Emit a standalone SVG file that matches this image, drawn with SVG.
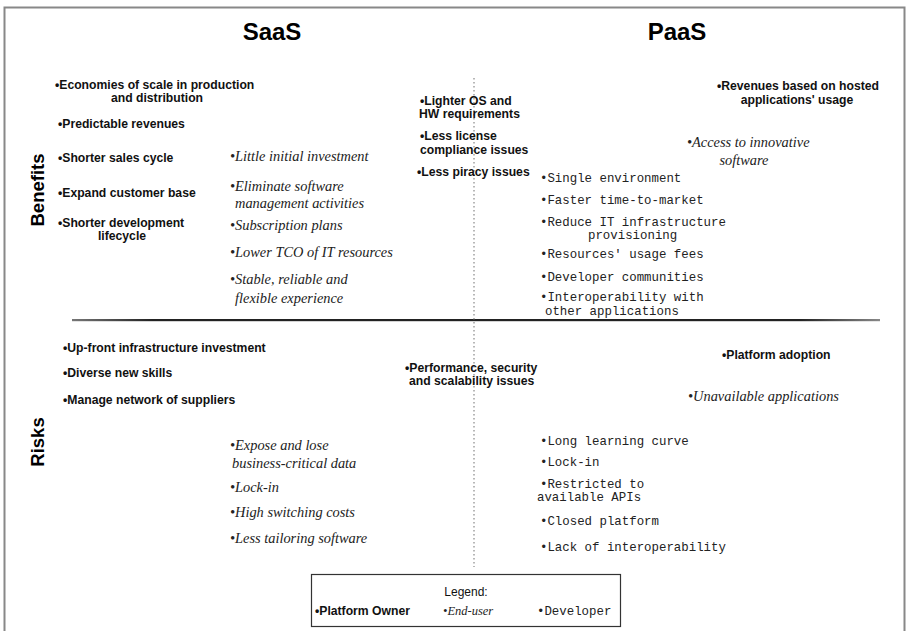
<svg xmlns="http://www.w3.org/2000/svg" width="906" height="631" viewBox="0 0 906 631">
<style>
.t{font-family:"Liberation Sans",Arial,sans-serif;font-weight:bold;font-size:24px;fill:#000}
.ax{font-family:"Liberation Sans",Arial,sans-serif;font-weight:bold;font-size:18.5px;fill:#000}
.b{font-family:"Liberation Sans",Arial,sans-serif;font-weight:bold;font-size:12.2px;fill:#111}
.i{font-family:"Liberation Serif","Times New Roman",serif;font-style:italic;font-size:14.4px;fill:#222}
.m{font-family:"Liberation Mono","Courier New",monospace;font-size:12.4px;fill:#222}
.r{font-family:"Liberation Sans",Arial,sans-serif;font-size:12px;fill:#111}
.c{text-anchor:middle}
</style>
<defs>
<linearGradient id="lg" x1="0" x2="1" y1="0" y2="0">
<stop offset="0" stop-color="#777"/>
<stop offset="0.1" stop-color="#222"/>
<stop offset="0.9" stop-color="#222"/>
<stop offset="1" stop-color="#888"/>
</linearGradient>
</defs>
<rect width="906" height="631" fill="#fff"/>
<g id="frame">
<path d="M4.5 640 V7.5 H904.5 V640" fill="none" stroke="#888" stroke-width="2"/>
</g>
<g id="connectors">
<rect x="72" y="319" width="808" height="2.2" fill="url(#lg)"/>
<line x1="474" y1="78" x2="474" y2="567" stroke="#888" stroke-width="1.2" stroke-dasharray="1.5 2.5"/>
</g>
<g id="headers">
<text class="t c" x="272" y="40">SaaS</text>
<text class="t c" x="677" y="40">PaaS</text>
<text class="ax c" transform="translate(44 190) rotate(-90)">Benefits</text>
<text class="ax c" transform="translate(44 442) rotate(-90)">Risks</text>
</g>
<g id="saas-benefits-owner">
<text class="b" x="55" y="89">•Economies of scale in production</text>
<text class="b c" x="157" y="102">and distribution</text>
<text class="b" x="58" y="128">•Predictable revenues</text>
<text class="b" x="58" y="162">•Shorter sales cycle</text>
<text class="b" x="58" y="197">•Expand customer base</text>
<text class="b" x="58" y="227">•Shorter development</text>
<text class="b c" x="122" y="240">lifecycle</text>
</g>
<g id="saas-benefits-user">
<text class="i" x="230" y="161">•Little initial investment</text>
<text class="i" x="230" y="191">•Eliminate software</text>
<text class="i" x="235" y="208">management activities</text>
<text class="i" x="230" y="230">•Subscription plans</text>
<text class="i" x="230" y="257">•Lower TCO of IT resources</text>
<text class="i" x="230" y="284">•Stable, reliable and</text>
<text class="i" x="235" y="303">flexible experience</text>
</g>
<g id="shared-benefits-owner">
<text class="b" x="420" y="105">•Lighter OS and</text>
<text class="b" x="419" y="118">HW requirements</text>
<text class="b" x="420" y="140">•Less license</text>
<text class="b" x="420" y="154">compliance issues</text>
<text class="b" x="417" y="176">•Less piracy issues</text>
</g>
<g id="paas-benefits-owner">
<text class="b" x="717" y="90">•Revenues based on hosted</text>
<text class="b c" x="797" y="104">applications' usage</text>
</g>
<g id="paas-benefits-user">
<text class="i" x="687" y="147">•Access to innovative</text>
<text class="i c" x="744" y="165">software</text>
</g>
<g id="paas-benefits-developer">
<text class="m" x="540" y="182">•Single environment</text>
<text class="m" x="540" y="204">•Faster time-to-market</text>
<text class="m" x="540" y="226">•Reduce IT infrastructure</text>
<text class="m" x="588" y="239">provisioning</text>
<text class="m" x="540" y="258">•Resources' usage fees</text>
<text class="m" x="540" y="281">•Developer communities</text>
<text class="m" x="540" y="301">•Interoperability with</text>
<text class="m" x="545" y="315">other applications</text>
</g>
<g id="saas-risks-owner">
<text class="b" x="63" y="352">•Up-front infrastructure investment</text>
<text class="b" x="63" y="377">•Diverse new skills</text>
<text class="b" x="63" y="404">•Manage network of suppliers</text>
</g>
<g id="saas-risks-user">
<text class="i" x="230" y="450">•Expose and lose</text>
<text class="i" x="232" y="468">business-critical data</text>
<text class="i" x="230" y="492">•Lock-in</text>
<text class="i" x="230" y="517">•High switching costs</text>
<text class="i" x="230" y="543">•Less tailoring software</text>
</g>
<g id="shared-risks-owner">
<text class="b" x="405" y="372">•Performance, security</text>
<text class="b" x="409" y="385">and scalability issues</text>
</g>
<g id="paas-risks-owner">
<text class="b" x="722" y="359">•Platform adoption</text>
</g>
<g id="paas-risks-user">
<text class="i" x="688" y="401">•Unavailable applications</text>
</g>
<g id="paas-risks-developer">
<text class="m" x="540" y="445">•Long learning curve</text>
<text class="m" x="540" y="466">•Lock-in</text>
<text class="m" x="540" y="488">•Restricted to</text>
<text class="m" x="537" y="501">available APIs</text>
<text class="m" x="540" y="525">•Closed platform</text>
<text class="m" x="540" y="551">•Lack of interoperability</text>
</g>
<g id="legend">
<rect x="311.5" y="574.5" width="309" height="52" fill="#fff" stroke="#333" stroke-width="1.2"/>
<text class="r c" x="466" y="596">Legend:</text>
<text class="b" x="315" y="615">•Platform Owner</text>
<text class="i" x="443" y="615" style="font-size:12.5px">•End-user</text>
<text class="m" x="537" y="615">•Developer</text>
</g>
</svg>
